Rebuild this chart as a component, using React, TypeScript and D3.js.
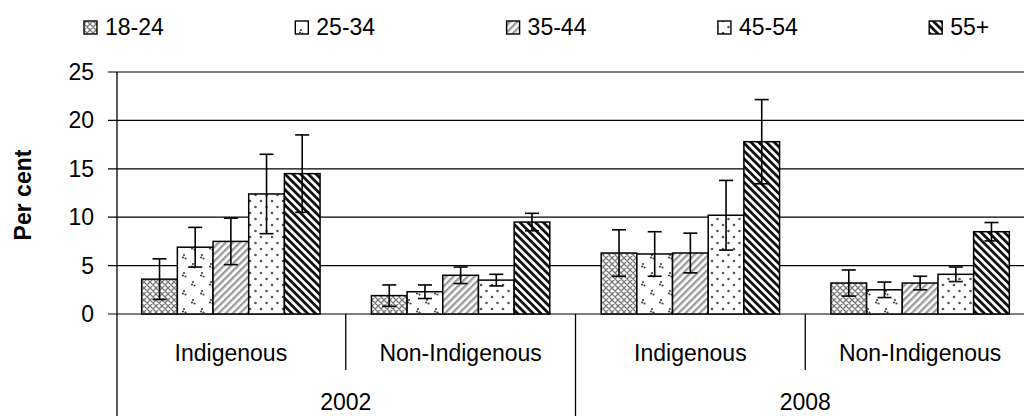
import React, { useEffect, useRef } from 'react';
import * as d3 from 'd3';

// categories
const years = ['2002', '2008'];
const populations = ['Indigenous', 'Non-Indigenous'];
const ageGroups = ['18-24', '25-34', '35-44', '45-54', '55+'];
const yTicks = [0, 5, 10, 15, 20, 25];

// values per cluster: 2002 Indig, 2002 Non-Indig, 2008 Indig, 2008 Non-Indig
const v1824 = [3.6, 1.9, 6.3, 3.2];
const v2534 = [6.9, 2.3, 6.2, 2.5];
const v3544 = [7.5, 4.0, 6.3, 3.2];
const v4554 = [12.4, 3.5, 10.2, 4.1];
const v55 = [14.5, 9.5, 17.8, 8.5];

// error margins (+/-)
const e1824 = [2.1, 1.1, 2.4, 1.35];
const e2534 = [2.05, 0.7, 2.3, 0.8];
const e3544 = [2.4, 0.85, 2.05, 0.7];
const e4554 = [4.1, 0.6, 3.6, 0.75];
const e55 = [4.0, 0.9, 4.35, 0.95];

const seriesValues = [v1824, v2534, v3544, v4554, v55];
const seriesErrors = [e1824, e2534, e3544, e4554, e55];

const App = () => {
  const svgRef = useRef<SVGSVGElement>(null);

  useEffect(() => {
    const svg = d3.select(svgRef.current);
    svg.selectAll('*').remove();

    const width = 1024;
    const height = 416;
    const font = 'Arial, "Liberation Sans", sans-serif';
    const fontSize = 23;

    const plotLeft = 117;
    const plotRight = 1035; // chart is clipped on the right in the original
    const yScale = d3.scaleLinear().domain([0, 25]).range([314, 72]);

    const clusters: string[] = [];
    years.forEach(yr => populations.forEach(p => clusters.push(`${yr}|${p}`)));

    const x0 = d3.scaleBand().domain(clusters).range([plotLeft - 1, plotRight]).padding(0);
    const x1 = d3.scaleBand().domain(ageGroups).range([0, x0.bandwidth()]).paddingInner(0).paddingOuter(0.72);
    const yearScale = d3.scaleBand().domain(years).range([plotLeft - 1, plotRight]).padding(0);

    // patterns
    const defs = svg.append('defs');
    const p1 = defs.append('pattern').attr('id', 'p0').attr('patternUnits', 'userSpaceOnUse').attr('width', 6).attr('height', 6);
    p1.append('rect').attr('width', 6).attr('height', 6).attr('fill', '#fff');
    p1.append('path').attr('d', 'M0,0L6,6M6,0L0,6M-1,5L1,7M5,-1L7,1').attr('stroke', '#7a7a7a').attr('stroke-width', 1.3);

    const p2 = defs.append('pattern').attr('id', 'p1').attr('patternUnits', 'userSpaceOnUse').attr('width', 18).attr('height', 18);
    p2.append('rect').attr('width', 18).attr('height', 18).attr('fill', '#fff');
    [[4, 3], [3, 5.5], [5.5, 6.5], [13, 12], [12, 14.5], [14.5, 15.5]].forEach(([cx, cy]) =>
      p2.append('circle').attr('cx', cx).attr('cy', cy).attr('r', 1.1).attr('fill', '#444'));

    const p3 = defs.append('pattern').attr('id', 'p2').attr('patternUnits', 'userSpaceOnUse')
      .attr('width', 5).attr('height', 5).attr('patternTransform', 'rotate(45)');
    p3.append('rect').attr('width', 5).attr('height', 5).attr('fill', '#fff');
    p3.append('rect').attr('width', 2.4).attr('height', 5).attr('fill', '#9c9c9c');

    const p4 = defs.append('pattern').attr('id', 'p3').attr('patternUnits', 'userSpaceOnUse').attr('width', 11).attr('height', 12);
    p4.append('rect').attr('width', 11).attr('height', 12).attr('fill', '#fff');
    [[2.5, 3], [8, 9]].forEach(([cx, cy]) =>
      p4.append('circle').attr('cx', cx).attr('cy', cy).attr('r', 1.3).attr('fill', '#555'));

    const p5 = defs.append('pattern').attr('id', 'p4').attr('patternUnits', 'userSpaceOnUse')
      .attr('width', 5.5).attr('height', 5.5).attr('patternTransform', 'rotate(-45)');
    p5.append('rect').attr('width', 5.5).attr('height', 5.5).attr('fill', '#fff');
    p5.append('rect').attr('width', 2.8).attr('height', 5.5).attr('fill', '#111');

    // gridlines
    svg.append('g')
      .selectAll('line')
      .data(yTicks)
      .join('line')
      .attr('x1', plotLeft - 9)
      .attr('x2', width)
      .attr('y1', d => yScale(d))
      .attr('y2', d => yScale(d))
      .attr('stroke', '#000')
      .attr('stroke-width', 1.2);

    // y axis line (continues through the category area)
    svg.append('line')
      .attr('x1', plotLeft).attr('x2', plotLeft)
      .attr('y1', yScale(25)).attr('y2', height)
      .attr('stroke', '#000').attr('stroke-width', 1.3);

    // y tick labels
    svg.append('g')
      .selectAll('text')
      .data(yTicks)
      .join('text')
      .attr('x', plotLeft - 23)
      .attr('y', d => yScale(d))
      .attr('dy', '0.35em')
      .attr('text-anchor', 'end')
      .style('font-family', font)
      .style('font-size', `${fontSize}px`)
      .text(d => d);

    // y label
    svg.append('text')
      .attr('transform', `translate(31,${(yScale(0) + yScale(25)) / 2 + 2}) rotate(-90)`)
      .attr('text-anchor', 'middle')
      .style('font-family', font)
      .style('font-size', `${fontSize}px`)
      .style('font-weight', 'bold')
      .text('Per cent');

    // bars
    const barData = clusters.flatMap((c, ci) =>
      ageGroups.map((a, si) => ({ cluster: c, age: a, si, value: seriesValues[si][ci], err: seriesErrors[si][ci] })));

    const bars = svg.append('g');
    bars.selectAll('rect')
      .data(barData)
      .join('rect')
      .attr('x', d => (x0(d.cluster) as number) + (x1(d.age) as number))
      .attr('y', d => yScale(d.value))
      .attr('width', x1.bandwidth())
      .attr('height', d => yScale(0) - yScale(d.value))
      .attr('fill', d => `url(#p${d.si})`)
      .attr('stroke', '#000')
      .attr('stroke-width', 1.5);

    // error bars
    const errG = svg.append('g').attr('stroke', '#000').attr('stroke-width', 1.6);
    barData.forEach(d => {
      const cx = (x0(d.cluster) as number) + (x1(d.age) as number) + x1.bandwidth() / 2;
      const top = yScale(d.value + d.err);
      const bot = yScale(d.value - d.err);
      errG.append('line').attr('x1', cx).attr('x2', cx).attr('y1', top).attr('y2', bot);
      errG.append('line').attr('x1', cx - 7).attr('x2', cx + 7).attr('y1', top).attr('y2', top);
      errG.append('line').attr('x1', cx - 7).attr('x2', cx + 7).attr('y1', bot).attr('y2', bot);
    });

    // category separators
    const sepG = svg.append('g').attr('stroke', '#000').attr('stroke-width', 1.3);
    clusters.forEach((c, i) => {
      if (i % 2 === 1) {
        const x = x0(c) as number;
        sepG.append('line').attr('x1', x).attr('x2', x).attr('y1', yScale(0)).attr('y2', 370);
      }
    });
    years.forEach(yr => {
      const x = (yearScale(yr) as number) + yearScale.bandwidth();
      sepG.append('line').attr('x1', x).attr('x2', x).attr('y1', yScale(0)).attr('y2', height);
    });

    // category labels
    svg.append('g')
      .selectAll('text')
      .data(clusters)
      .join('text')
      .attr('x', d => (x0(d) as number) + x0.bandwidth() / 2)
      .attr('y', 361)
      .attr('text-anchor', 'middle')
      .style('font-family', font)
      .style('font-size', `${fontSize}px`)
      .text(d => d.split('|')[1]);

    svg.append('g')
      .selectAll('text')
      .data(years)
      .join('text')
      .attr('x', d => (yearScale(d) as number) + yearScale.bandwidth() / 2)
      .attr('y', 410)
      .attr('text-anchor', 'middle')
      .style('font-family', font)
      .style('font-size', `${fontSize}px`)
      .text(d => d);

    // legend
    const legendX = d3.scaleBand().domain(ageGroups).range([84, 84 + 5 * 211.3]);
    const legend = svg.append('g');
    ageGroups.forEach((a, i) => {
      const lx = legendX(a) as number;
      legend.append('rect')
        .attr('x', lx).attr('y', 21).attr('width', 13).attr('height', 13)
        .attr('fill', `url(#p${i})`).attr('stroke', '#000').attr('stroke-width', 1.4);
      legend.append('text')
        .attr('x', lx + 21).attr('y', 35)
        .style('font-family', font)
        .style('font-size', `${fontSize}px`)
        .text(a);
    });
  }, []);

  return (
    <>
      <style>{'body{margin:0;}'}</style>
      <svg ref={svgRef} width="1024" height="416" style={{ display: 'block', background: '#fff' }}></svg>
    </>
  );
};

export default App;
